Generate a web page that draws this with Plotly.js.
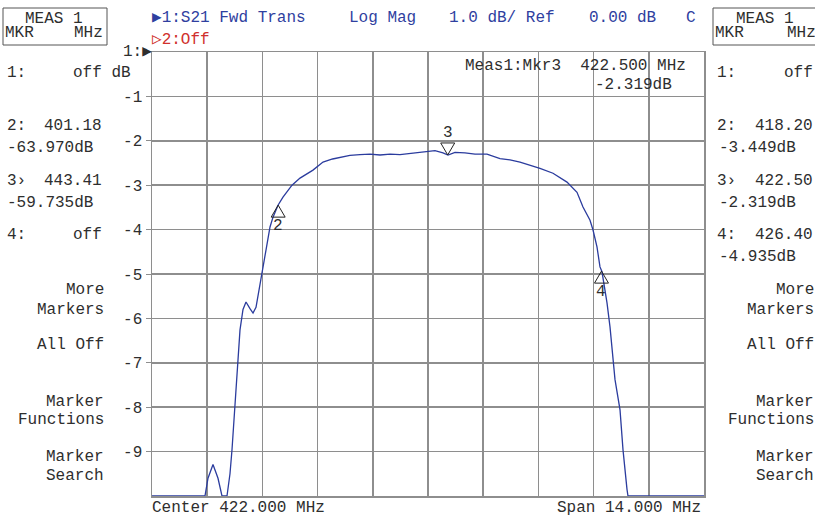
<!DOCTYPE html>
<html>
<head>
<meta charset="utf-8">
<script src="https://cdn.plot.ly/plotly-3.0.1.min.js"></script>
<style>html,body{margin:0;padding:0;background:#fff;}#chart{width:815px;height:517px;}</style>
</head>
<body>
<div id="chart"></div>
<script>
// ---- data (as displayed; values below -10 dB are pinned to the bottom graticule) ----
var freqMHz = [415.000, 416.344, 416.420, 416.547, 416.674, 416.775, 416.902, 416.978, 417.029, 417.105,
  417.156, 417.232, 417.308, 417.384, 417.485, 417.562, 417.638, 417.688, 417.815, 417.891,
  417.993, 418.069, 418.196, 418.322, 418.551, 418.754, 419.083, 419.337, 419.580, 419.768, 420.020, 420.275,
  420.530, 420.783, 421.040, 421.290, 421.540, 421.797, 422.000, 422.177, 422.380, 422.507, 422.685, 422.938, 423.192, 423.496,
  423.826, 424.080, 424.333, 424.840, 425.170, 425.525, 425.779, 425.931, 426.109, 426.185, 426.286,
  426.362, 426.413, 426.489, 426.540, 426.616, 426.743, 426.870, 426.946, 427.047, 427.072, 429.000];
var s21dB = [-10, -10, -9.6, -9.29, -9.6, -10, -10, -9.5, -8.96, -7.99,
  -7.38, -6.26, -5.80, -5.63, -5.78, -5.88, -5.75, -5.51, -4.91, -4.46,
  -3.94, -3.72, -3.45, -3.27, -3.00, -2.84, -2.66, -2.48, -2.41, -2.37, -2.33, -2.31,
  -2.30, -2.32, -2.30, -2.31, -2.28, -2.26, -2.24, -2.22, -2.27, -2.32, -2.26, -2.27, -2.30, -2.30,
  -2.40, -2.43, -2.48, -2.62, -2.73, -2.93, -3.16, -3.49, -3.79, -4.01, -4.39,
  -4.84, -4.95, -5.35, -5.65, -6.19, -7.38, -8.06, -8.96, -9.85, -10, -10];

var markerIds = ['2', '3', '4'];
var markerFreq = [418.20, 422.50, 426.40];
var markerdB = [-3.449, -2.319, -4.935];
var markerPointsDown = [false, true, false];

var yTickVals = [-1, -2, -3, -4, -5, -6, -7, -8, -9];
var yTickText = ['-1', '-2', '-3', '-4', '-5', '-6', '-7', '-8', '-9'];

var leftPanel = [
  ['1:', 'off dB'], ['2:', '401.18'], ['-63.970dB', ''], ['3\u203a', '443.41'], ['-59.735dB', ''], ['4:', 'off']
];
var rightPanel = [
  ['1:', 'off'], ['2:', '418.20'], ['-3.449dB', ''], ['3\u203a', '422.50'], ['-2.319dB', ''], ['4:', '426.40'], ['-4.935dB', '']
];
var menuItems = ['More', 'Markers', 'All Off', 'Marker', 'Functions', 'Marker', 'Search'];

// ---- layout helpers (pixel -> paper) ----
var L = 152, R = 704, T = 52, B = 496;
function px(x) { return (x - L) / (R - L); }
function py(y) { return (B - y) / (B - T); }
var FONT = 'Liberation Mono, DejaVu Sans Mono, monospace';
var TXT = '#2e2e2e', BLUE = '#2f3f9f', RED = '#d0302c';
var annotations = [];
function txt(s, x, y, anchor, color, size) {
  annotations.push({text: s, xref: 'paper', yref: 'paper', x: px(x), y: py(y), xanchor: anchor, yanchor: 'middle',
    showarrow: false, borderpad: 0, font: {family: FONT, size: size || 16, color: color || TXT}});
}

// header
txt('\u25b61:S21 Fwd Trans', 151, 18, 'left', BLUE);
txt('Log Mag', 348, 18, 'left', BLUE);
txt('1.0 dB/ Ref', 448, 18, 'left', BLUE);
txt('0.00 dB', 588, 18, 'left', BLUE);
txt('C', 685, 18, 'left', BLUE);
txt('\u25b72:Off', 151, 40, 'left', RED);
// boxes text
txt('MEAS 1', 54, 19, 'center');
txt('MKR', 4, 33, 'left');
txt('MHz', 104, 33, 'right');
txt('MEAS 1', 765, 19, 'center');
txt('MKR', 714, 33, 'left');
txt('MHz', 817, 33, 'right');
// reference marker
txt('1:\u25b6', 153, 52, 'right', TXT);
// side panels
var rowsY = [73, 126, 148, 181, 203, 235, 257];
leftPanel.forEach(function (r, i) {
  txt(r[0], 6, rowsY[i], 'left');
  if (r[1]) txt(r[1], i === 0 ? 132 : 103, rowsY[i], 'right');
});
rightPanel.forEach(function (r, i) {
  var isVal = r[1] === '';
  txt(r[0], isVal ? 718 : 716, rowsY[i], 'left');
  if (r[1]) txt(r[1], 814, rowsY[i], 'right');
});
var menuY = [290, 310, 345, 402, 420, 457, 476];
menuItems.forEach(function (m, i) {
  txt(m, 105, menuY[i], 'right');
  txt(m, 815, menuY[i], 'right');
});
// active marker readout
txt('Meas1:Mkr3  422.500 MHz', 464, 66, 'left');
txt('-2.319dB', 594, 85, 'left');
// footer
txt('Center 422.000 MHz', 151, 508, 'left');
txt('Span 14.000 MHz', 702, 508, 'right');

// marker triangles + labels from marker data
var shapes = [
  {type: 'rect', xref: 'paper', yref: 'paper', x0: px(3), x1: px(107), y0: py(8), y1: py(45), line: {color: '#555', width: 1}},
  {type: 'rect', xref: 'paper', yref: 'paper', x0: px(713), x1: px(830), y0: py(8), y1: py(45), line: {color: '#555', width: 1}}
];
markerFreq.forEach(function (f, i) {
  var down = markerPointsDown[i];
  shapes.push({type: 'path', xref: 'x', yref: 'y', xsizemode: 'pixel', ysizemode: 'pixel', xanchor: f, yanchor: markerdB[i],
    path: down ? 'M0,0 L-7,12 L7,12 Z' : 'M0,0 L-7,-12 L7,-12 Z', line: {color: '#222', width: 1}, fillcolor: 'rgba(0,0,0,0)'});
  annotations.push({text: markerIds[i], x: f, y: markerdB[i], xref: 'x', yref: 'y', showarrow: false,
    yshift: down ? 22 : -21, xanchor: 'center', yanchor: 'middle', font: {family: FONT, size: 16, color: TXT}});
});

var trace = {x: freqMHz, y: s21dB, type: 'scatter', mode: 'lines', line: {color: '#2b3c9e', width: 1.3}, cliponaxis: true, hoverinfo: 'skip'};

var layout = {
  width: 815, height: 517,
  margin: {l: L, r: 815 - R, t: T, b: 517 - B, pad: 0},
  paper_bgcolor: '#ffffff', plot_bgcolor: '#ffffff',
  showlegend: false,
  xaxis: {range: [415, 429], tick0: 415, dtick: 1.4, showticklabels: false, ticks: '', showgrid: true,
    gridcolor: '#8e8e8e', gridwidth: 1.5, zeroline: false, showline: true, linecolor: '#8e8e8e', linewidth: 1.5, mirror: true, fixedrange: true},
  yaxis: {range: [-10, 0], tickmode: 'array', tickvals: yTickVals, ticktext: yTickText, ticks: 'outside', ticklen: 5,
    tickcolor: '#8e8e8e', tickwidth: 1, tickfont: {family: FONT, size: 16, color: TXT}, ticklabelstandoff: 0,
    showgrid: true, gridcolor: '#8e8e8e', gridwidth: 1.5, zeroline: false, showline: true, linecolor: '#8e8e8e', linewidth: 1.5, mirror: true, fixedrange: true},
  annotations: annotations,
  shapes: shapes
};
Plotly.newPlot('chart', [trace], layout, {displayModeBar: false, staticPlot: true});
</script>
</body>
</html>
